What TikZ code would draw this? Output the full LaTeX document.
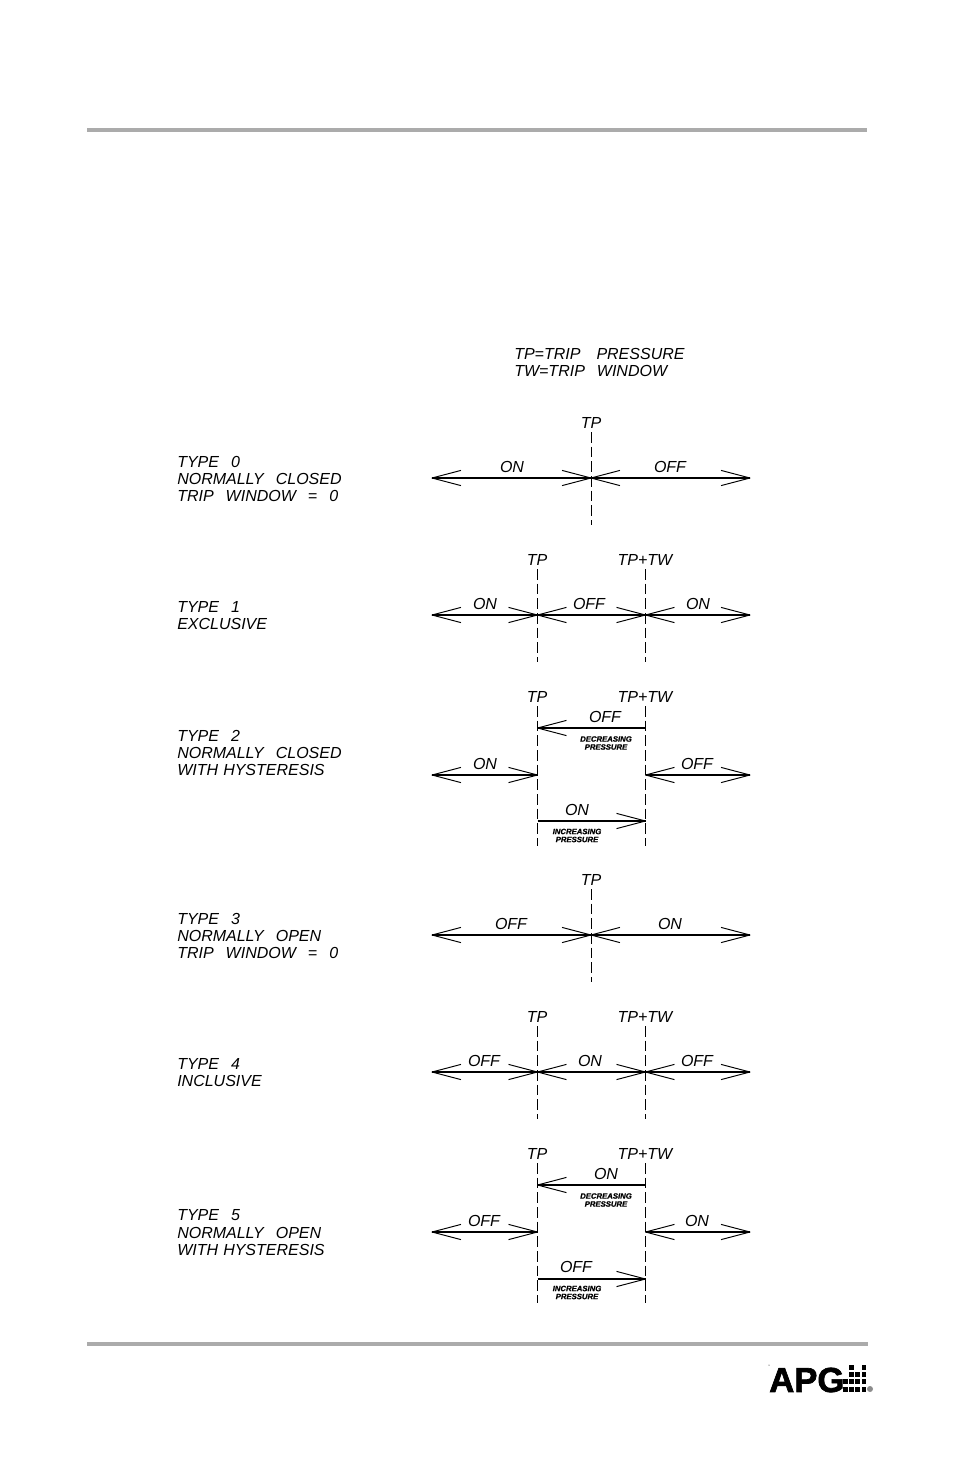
\documentclass[tikz,border=0pt]{standalone}
\usepackage{fontspec}
\setmainfont{Liberation Sans}
\usetikzlibrary{arrows.meta}
\pgfdeclarearrow{
  name=OpenBarb,
  setup code={
    \pgfarrowssettipend{0pt}
    \pgfarrowssetlineend{0pt}
    \pgfarrowssetvisualtipend{0pt}
    \pgfarrowssetbackend{-21.7pt}
    \pgfarrowssetvisualbackend{0pt}
  },
  drawing code={
    \pgfsetdash{}{0pt}
    \pgfsetlinewidth{.72pt}
    \pgfsetroundjoin
    \pgfpathmoveto{\pgfqpoint{-21.7pt}{5.7pt}}
    \pgfpathlineto{\pgfqpoint{0pt}{0pt}}
    \pgfpathlineto{\pgfqpoint{-21.7pt}{-5.7pt}}
    \pgfusepathqstroke
  }
}
\tikzset{
  rulebar/.style={line width=2.4pt,draw=black!33},
  dim/.style={line width=.85pt,draw=black},
  both/.style={dim,{OpenBarb}-{OpenBarb}},
  single/.style={dim,-{OpenBarb}},
  tick/.style={line width=.72pt,draw=black,dash pattern=on 8pt off 3pt},
  lbl/.style={inner sep=0pt,font=\fontsize{12}{13.1}\selectfont\itshape},
  side/.style={lbl,anchor=west,align=left},
  tiny/.style={inner sep=0pt,align=center,font=\fontsize{5.8}{6}\selectfont\bfseries\itshape\addfontfeature{FakeBold=1}},
}
\newcommand{\dsp}{\hspace{.75em}}
\newcommand{\nsp}{\hspace{.32em}}
\begin{document}
\begin{tikzpicture}[x=.75pt,y=-.75pt]
\useasboundingbox (0,0) rectangle (954,1475);
\coordinate (r1a) at (87,130); \coordinate (r1b) at (867,130);
\coordinate (r2a) at (87,1344); \coordinate (r2b) at (868,1344);
\draw[rulebar] (r1a) -- (r1b);
\draw[rulebar] (r2a) -- (r2b);
\node[side] (legend) at (514,362.5) {TP=TRIP\hspace{1em}PRESSURE\\TW=TRIP\dsp WINDOW};
% Type 0
\node[side] (t0) at (177,479) {TYPE\dsp 0\\NORMALLY\dsp CLOSED\\TRIP\dsp WINDOW\dsp =\dsp 0};
\node[lbl] (t0tp) at (591,423) {TP};
\coordinate (t0a) at (591,432); \coordinate (t0b) at (591,525);
\coordinate (t0l) at (432,478); \coordinate (t0c) at (591,478); \coordinate (t0r) at (750,478);
\draw[tick] (t0a) -- (t0b);
\draw[both] (t0l) -- (t0c); \draw[both] (t0c) -- (t0r);
\node[lbl] (t0on) at (512,467) {ON}; \node[lbl] (t0off) at (670,467) {OFF};
% Type 1
\node[side] (t1) at (177,615.5) {TYPE\dsp 1\\EXCLUSIVE};
\node[lbl] (t1tp) at (537,560) {TP}; \node[lbl] (t1tw) at (645,560) {TP+TW};
\coordinate (t1a) at (537.5,569); \coordinate (t1b) at (537.5,662);
\coordinate (t1c) at (645.5,569); \coordinate (t1d) at (645.5,662);
\coordinate (t1l) at (432,615); \coordinate (t1m) at (537.5,615); \coordinate (t1n) at (645.5,615); \coordinate (t1r) at (750,615);
\draw[tick] (t1a) -- (t1b); \draw[tick] (t1c) -- (t1d);
\draw[both] (t1l) -- (t1m); \draw[both] (t1m) -- (t1n); \draw[both] (t1n) -- (t1r);
\node[lbl] (t1on) at (485,604) {ON}; \node[lbl] (t1off) at (589,604) {OFF}; \node[lbl] (t1on2) at (698,604) {ON};
% Type 2
\node[side] (t2) at (177,753) {TYPE\dsp 2\\NORMALLY\dsp CLOSED\\WITH\nsp HYSTERESIS};
\node[lbl] (t2tp) at (537,697) {TP}; \node[lbl] (t2tw) at (645,697) {TP+TW};
\coordinate (t2a) at (537.5,706); \coordinate (t2b) at (537.5,846);
\coordinate (t2c) at (645.5,706); \coordinate (t2d) at (645.5,846);
\draw[tick] (t2a) -- (t2b); \draw[tick] (t2c) -- (t2d);
\coordinate (t2ua) at (645.5,728); \coordinate (t2ub) at (537.5,728);
\draw[single] (t2ua) -- (t2ub);
\node[lbl] (t2uo) at (605,717) {OFF};
\node[tiny] (t2dp) at (606,743) {DECREASING\\PRESSURE};
\coordinate (t2l) at (432,775); \coordinate (t2m) at (537.5,775); \coordinate (t2n) at (645.5,775); \coordinate (t2r) at (750,775);
\draw[both] (t2l) -- (t2m); \draw[both] (t2n) -- (t2r);
\node[lbl] (t2on) at (485,764) {ON}; \node[lbl] (t2off) at (697,764) {OFF};
\coordinate (t2la) at (537.5,821); \coordinate (t2lb) at (645.5,821);
\draw[single] (t2la) -- (t2lb);
\node[lbl] (t2lo) at (577,810) {ON};
\node[tiny] (t2ip) at (577,835.5) {INCREASING\\PRESSURE};
% Type 3
\node[side] (t3) at (177,936) {TYPE\dsp 3\\NORMALLY\dsp OPEN\\TRIP\dsp WINDOW\dsp =\dsp 0};
\node[lbl] (t3tp) at (591,880) {TP};
\coordinate (t3a) at (591,889); \coordinate (t3b) at (591,982);
\coordinate (t3l) at (432,935); \coordinate (t3c) at (591,935); \coordinate (t3r) at (750,935);
\draw[tick] (t3a) -- (t3b);
\draw[both] (t3l) -- (t3c); \draw[both] (t3c) -- (t3r);
\node[lbl] (t3off) at (511,924) {OFF}; \node[lbl] (t3on) at (670,924) {ON};
% Type 4
\node[side] (t4) at (177,1072.5) {TYPE\dsp 4\\INCLUSIVE};
\node[lbl] (t4tp) at (537,1017) {TP}; \node[lbl] (t4tw) at (645,1017) {TP+TW};
\coordinate (t4a) at (537.5,1026); \coordinate (t4b) at (537.5,1119);
\coordinate (t4c) at (645.5,1026); \coordinate (t4d) at (645.5,1119);
\coordinate (t4l) at (432,1072); \coordinate (t4m) at (537.5,1072); \coordinate (t4n) at (645.5,1072); \coordinate (t4r) at (750,1072);
\draw[tick] (t4a) -- (t4b); \draw[tick] (t4c) -- (t4d);
\draw[both] (t4l) -- (t4m); \draw[both] (t4m) -- (t4n); \draw[both] (t4n) -- (t4r);
\node[lbl] (t4off) at (484,1061) {OFF}; \node[lbl] (t4on) at (590,1061) {ON}; \node[lbl] (t4off2) at (697,1061) {OFF};
% Type 5
\node[side] (t5) at (177,1233) {TYPE\dsp 5\\NORMALLY\dsp OPEN\\WITH\nsp HYSTERESIS};
\node[lbl] (t5tp) at (537,1154) {TP}; \node[lbl] (t5tw) at (645,1154) {TP+TW};
\coordinate (t5a) at (537.5,1163); \coordinate (t5b) at (537.5,1303);
\coordinate (t5c) at (645.5,1163); \coordinate (t5d) at (645.5,1303);
\draw[tick] (t5a) -- (t5b); \draw[tick] (t5c) -- (t5d);
\coordinate (t5ua) at (645.5,1185); \coordinate (t5ub) at (537.5,1185);
\draw[single] (t5ua) -- (t5ub);
\node[lbl] (t5uo) at (606,1174) {ON};
\node[tiny] (t5dp) at (606,1200) {DECREASING\\PRESSURE};
\coordinate (t5l) at (432,1232); \coordinate (t5m) at (537.5,1232); \coordinate (t5n) at (645.5,1232); \coordinate (t5r) at (750,1232);
\draw[both] (t5l) -- (t5m); \draw[both] (t5n) -- (t5r);
\node[lbl] (t5off) at (484,1221) {OFF}; \node[lbl] (t5on) at (697,1221) {ON};
\coordinate (t5la) at (537.5,1279); \coordinate (t5lb) at (645.5,1279);
\draw[single] (t5la) -- (t5lb);
\node[lbl] (t5lo) at (576,1267) {OFF};
\node[tiny] (t5ip) at (577,1292.5) {INCREASING\\PRESSURE};
% Logo
\node[inner sep=0pt,anchor=west,font=\fontsize{26}{27}\selectfont\bfseries\addfontfeature{FakeBold=2}] (apg) at (769,1380) {APG};
\foreach \c/\r in {1/0,3/0,1/1,2/1,3/1,0/2,1/2,2/2,3/2,0/3,1/3,2/3,3/3}{
  \fill[black] ({843+\c*6.2},{1365+\r*7.2}) rectangle ++(4.8,5);
}
\fill[black!45] (870,1389) circle (3);
\fill[black] (769,1365) circle (.5);
\end{tikzpicture}
\end{document}
